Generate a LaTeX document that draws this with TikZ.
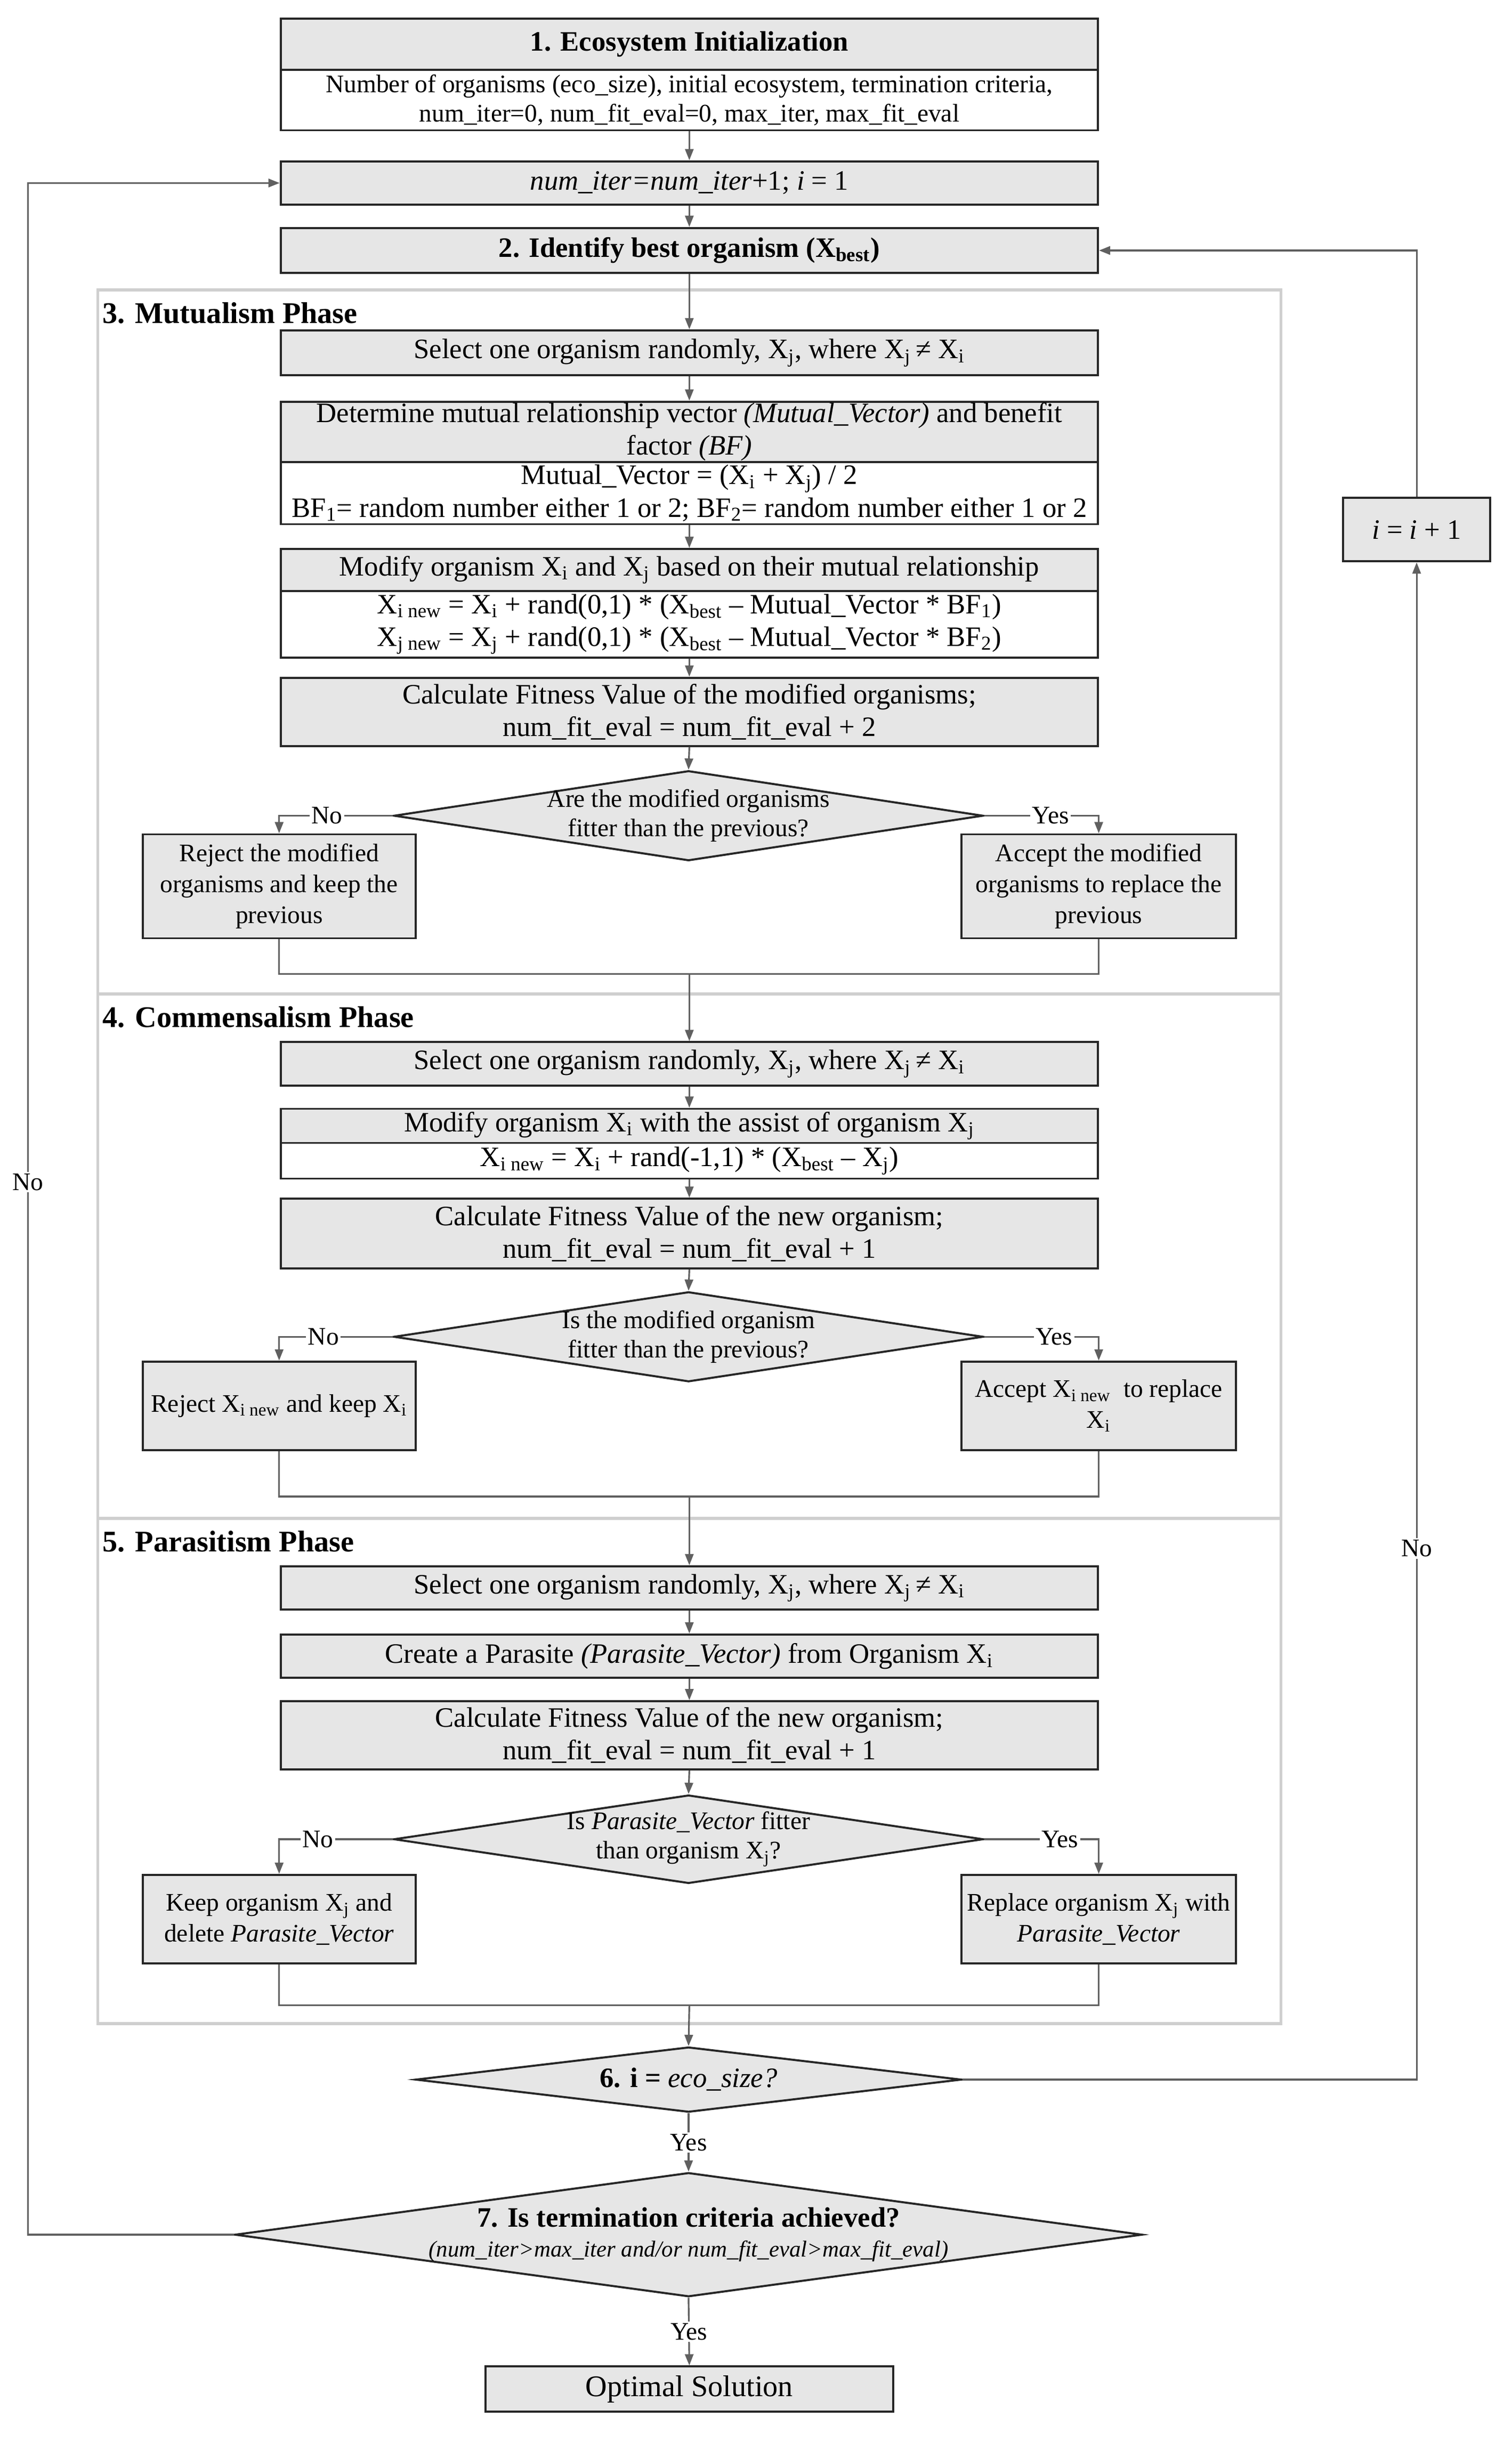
\documentclass[tikz,border=0pt]{standalone}
\usepackage{fontspec}
\setmainfont{Liberation Serif}
\usetikzlibrary{shapes.geometric,arrows.meta}
\newcommand{\uu}{0.029097cm}
\newcommand{\sbs}[1]{\textsubscript{#1}}
\newcommand{\fsn}{\fontsize{13.5}{15.7}\selectfont}
\newcommand{\fsm}{\fontsize{15}{17.4}\selectfont}
\newcommand{\fsb}{\fontsize{15}{17}\selectfont\bfseries}
\newcommand{\fst}{\fontsize{16}{18}\selectfont\bfseries}
\definecolor{boxgray}{HTML}{E6E6E6}
\definecolor{linegray}{HTML}{606060}
\definecolor{framegray}{HTML}{CFCFCF}
\definecolor{bordergray}{HTML}{262626}
\tikzset{
  box/.style={draw=bordergray, line width=1.1pt, fill=boxgray, inner sep=0pt, align=center, font=\fsm},
  body/.style={box, fill=white},
  mw/.style={minimum width=527*\uu},
  hh/.style={minimum height=#1*\uu},
  ww/.style={minimum width=#1*\uu},
  side/.style={font=\fontsize{13.5}{16.5}\selectfont},
  dia/.style={draw=bordergray, line width=1.1pt, fill=boxgray, shape=diamond, inner sep=0pt},
  dtext/.style={align=center, font=\fsn, inner sep=0pt},
  line/.style={draw=linegray, line width=0.9pt},
  arr/.style={line, -{Triangle[length=6pt,width=4.5pt]}},
  lab/.style={fill=white, inner sep=1pt, font=\fsn},
  frame/.style={draw=framegray, line width=1.6pt},
  phase/.style={anchor=west, font=\fst, inner sep=0pt}
}
\begin{document}
\begin{tikzpicture}[x=\uu, y=-\uu]
\fill[white] (0,0) rectangle (975,1574.7);
\useasboundingbox (0,0) rectangle (975,1574.7);

% phase frames
\draw[frame] (63,187) rectangle (826,1305);
\draw[frame] (63,641) -- (826,641);
\draw[frame] (63,979) -- (826,979);
\node[phase] (t3) at (66,202) {3. Mutualism Phase};
\node[phase] (t4) at (66,656) {4. Commensalism Phase};
\node[phase] (t5) at (66,994) {5. Parasitism Phase};

% top
\node[box, mw, hh=33, font=\fsb] (b1h) at (444.5,28.5) {1. Ecosystem Initialization};
\node[body, mw, hh=39, font=\fsn] (b1b) at (444.5,64.5) {Number of organisms (eco\_size), initial ecosystem, termination criteria,\\num\_iter=0, num\_fit\_eval=0, max\_iter, max\_fit\_eval};
\node[box, mw, hh=28] (iter) at (444.5,118) {\textit{num\_iter=num\_iter}+1; \textit{i} = 1};
\node[box, mw, hh=29, font=\fsb] (best) at (444.5,161.5) {2. Identify best organism (X\sbs{best})};

% mutualism
\node[box, mw, hh=29] (m1) at (444.5,227.5) {Select one organism randomly, X\sbs{j}, where X\sbs{j}\,≠ X\sbs{i}};
\node[box, mw, hh=39] (m2h) at (444.5,278.5) {Determine mutual relationship vector \textit{(Mutual\_Vector)} and benefit\\factor \textit{(BF)}};
\node[body, mw, hh=40] (m2b) at (444.5,318) {Mutual\_Vector = (X\sbs{i} + X\sbs{j}) / 2\\BF\sbs{1}= random number either 1 or 2; BF\sbs{2}= random number either 1 or 2};
\node[box, mw, hh=27] (m3h) at (444.5,367.5) {Modify organism X\sbs{i} and X\sbs{j} based on their mutual relationship};
\node[body, mw, hh=43] (m3b) at (444.5,402.5) {X\sbs{i new} = X\sbs{i} + rand(0,1) * (X\sbs{best} -- Mutual\_Vector * BF\sbs{1})\\X\sbs{j new} = X\sbs{j} + rand(0,1) * (X\sbs{best} -- Mutual\_Vector * BF\sbs{2})};
\node[box, mw, hh=44] (m4) at (444.5,459) {Calculate Fitness Value of the modified organisms;\\num\_fit\_eval = num\_fit\_eval + 2};
\node[dia, ww=380, hh=58] (md) at (444,526) {};
\node[dtext] (mdt) at (md.center) {Are the modified organisms\\fitter than the previous?};
\node[box, side, ww=176, hh=67] (mrej) at (180,571.5) {Reject the modified\\organisms and keep the\\previous};
\node[box, side, ww=177, hh=67] (macc) at (708.5,571.5) {Accept the modified\\organisms to replace the\\previous};
\coordinate (mm1) at (444.5,628);

% commensalism
\node[box, mw, hh=28] (c1) at (444.5,686) {Select one organism randomly, X\sbs{j}, where X\sbs{j}\,≠ X\sbs{i}};
\node[box, mw, hh=22] (c2h) at (444.5,726) {Modify organism X\sbs{i} with the assist of organism X\sbs{j}};
\node[body, mw, hh=23] (c2b) at (444.5,748.5) {X\sbs{i new} = X\sbs{i} + rand(-1,1) * (X\sbs{best} -- X\sbs{j})};
\node[box, mw, hh=45] (c3) at (444.5,795.5) {Calculate Fitness Value of the new organism;\\num\_fit\_eval = num\_fit\_eval + 1};
\node[dia, ww=380, hh=58] (cd) at (444,862) {};
\node[dtext] (cdt) at (cd.center) {Is the modified organism\\fitter than the previous?};
\node[box, side, ww=176, hh=57] (crej) at (180,906.5) {Reject X\sbs{i new} and keep X\sbs{i}};
\node[box, side, ww=177, hh=57] (cacc) at (708.5,906.5) {Accept X\sbs{i new}\ \ to replace\\X\sbs{i}};
\coordinate (mm2) at (444.5,965);

% parasitism
\node[box, mw, hh=28] (p1) at (444.5,1024) {Select one organism randomly, X\sbs{j}, where X\sbs{j}\,≠ X\sbs{i}};
\node[box, mw, hh=28] (p2) at (444.5,1068) {Create a Parasite \textit{(Parasite\_Vector)} from Organism X\sbs{i}};
\node[box, mw, hh=44] (p3) at (444.5,1119) {Calculate Fitness Value of the new organism;\\num\_fit\_eval = num\_fit\_eval + 1};
\node[dia, ww=380, hh=57] (pd) at (444,1186) {};
\node[dtext] (pdt) at (pd.center) {Is \textit{Parasite\_Vector} fitter\\than organism X\sbs{j}?};
\node[box, side, ww=176, hh=57] (pkeep) at (180,1237.5) {Keep organism X\sbs{j} and\\delete \textit{Parasite\_Vector}};
\node[box, side, ww=177, hh=57] (prep) at (708.5,1237.5) {Replace organism X\sbs{j} with\\\textit{Parasite\_Vector}};
\coordinate (mm3) at (444.5,1293);

% end
\node[dia, ww=352, hh=42] (d6) at (444,1341) {};
\node[dtext, font=\fsb] (d6t) at (d6.center) {6. i = \textit{\mdseries eco\_size?}};
\node[dia, ww=585, hh=80] (d7) at (444,1441) {};
\node[dtext, font=\fsb] (d7t) at (d7.center) {7. Is termination criteria achieved?\\[-1pt]{\fontsize{12.2}{13.5}\selectfont\mdseries\itshape (num\_iter>max\_iter and/or num\_fit\_eval>max\_fit\_eval)}};
\node[box, ww=263, hh=29, font=\fontsize{16}{18}\selectfont] (opt) at (444.5,1540.5) {Optimal Solution};
\node[box, ww=95, hh=41] (inc) at (913.5,341.5) {\textit{i} = \textit{i} + 1};

% connectors
\draw[arr] (b1b.south) -- (iter.north);
\draw[arr] (iter.south) -- (best.north);
\draw[arr] (best.south) -- (m1.north);
\draw[arr] (m1.south) -- (m2h.north);
\draw[arr] (m2b.south) -- (m3h.north);
\draw[arr] (m3b.south) -- (m4.north);
\draw[arr] (m4.south) -- (md.north);
\draw[arr] (md.west) -- node[lab,pos=0.58]{No} (md.west -| mrej.north) -- (mrej.north);
\draw[arr] (md.east) -- node[lab,pos=0.58]{Yes} (md.east -| macc.north) -- (macc.north);
\draw[line] (mrej.south) |- (mm1) -| (macc.south);
\draw[arr] (mm1) -- (c1.north);

\draw[arr] (c1.south) -- (c2h.north);
\draw[arr] (c2b.south) -- (c3.north);
\draw[arr] (c3.south) -- (cd.north);
\draw[arr] (cd.west) -- node[lab,pos=0.61]{No} (cd.west -| crej.north) -- (crej.north);
\draw[arr] (cd.east) -- node[lab,pos=0.61]{Yes} (cd.east -| cacc.north) -- (cacc.north);
\draw[line] (crej.south) |- (mm2) -| (cacc.south);
\draw[arr] (mm2) -- (p1.north);

\draw[arr] (p1.south) -- (p2.north);
\draw[arr] (p2.south) -- (p3.north);
\draw[arr] (p3.south) -- (pd.north);
\draw[arr] (pd.west) -- node[lab,pos=0.66]{No} (pd.west -| pkeep.north) -- (pkeep.north);
\draw[arr] (pd.east) -- node[lab,pos=0.66]{Yes} (pd.east -| prep.north) -- (prep.north);
\draw[line] (pkeep.south) |- (mm3) -| (prep.south);
\draw[arr] (mm3) -- (d6.north);

\draw[arr] (d6.south) -- node[lab]{Yes} (d7.north);
\draw[arr] (d7.south) -- node[lab]{Yes} (opt.north);

\coordinate (cR) at (913.5,1341);
\draw[arr] (d6.east) -- (cR) -- node[lab,pos=0.35]{No} (inc.south);
\draw[arr] (inc.north) |- (best.east);

\coordinate (cL) at (18,1441);
\draw[arr] (d7.west) -- (cL) -- node[lab,pos=0.513]{No} (cL |- iter.west) -- (iter.west);
\end{tikzpicture}
\end{document}
